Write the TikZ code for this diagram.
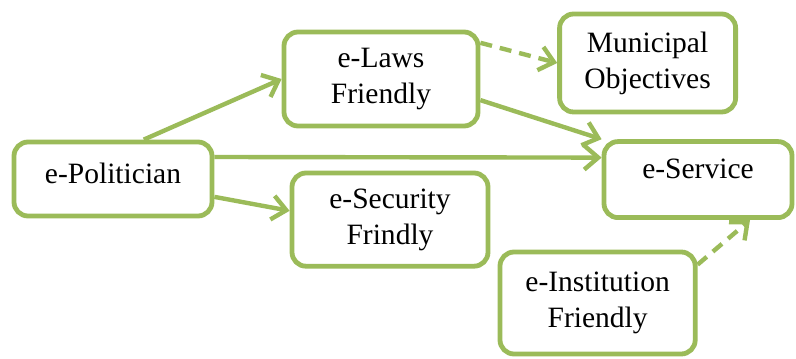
\documentclass[tikz,border=0pt]{standalone}
\usepackage{fontspec}
\setmainfont{Liberation Serif}
\usetikzlibrary{arrows.meta}
\definecolor{olive}{HTML}{9BBB59}

\begin{document}
\begin{tikzpicture}[
  box/.style={draw=olive, line width=1.2mm, rounded corners=3.5mm, fill=white,
    align=center, font=\fontsize{21pt}{25.5pt}\selectfont},
  link/.style={draw=olive, line width=1.1mm, -{Straight Barb[length=3.5mm,width=6mm]}},
  dashlink/.style={link, dash pattern=on 3mm off 2mm}
  ]

  \useasboundingbox (0, 0) rectangle (19.9, 8.95);

  \node[box, minimum width=4.95cm, minimum height=1.85cm, text depth=0.3cm] (pol) at (2.825, 4.475) {e-Politician};
  \node[box, minimum width=4.85cm, minimum height=2.35cm] (laws) at (9.525, 6.975) {e-Laws\\Friendly};
  \node[box, minimum width=4.4cm, minimum height=2.45cm] (muni) at (16.19, 7.375) {Municipal\\Objectives};
  \node[box, minimum width=4.7cm, minimum height=1.9cm, text depth=0.55cm] (serv) at (17.45, 4.46) {e-Service};
  \node[box, minimum width=4.9cm, minimum height=2.33cm] (sec) at (9.75, 3.46) {e-Security\\Frindly};
  \node[box, minimum width=4.88cm, minimum height=2.55cm] (inst) at (14.94, 1.375) {e-Institution\\Friendly};

  \draw [link] (pol.52) to (laws.west);
  \draw [link] ([yshift=0.55cm]pol.east) to ([yshift=0.55cm]serv.west);
  \draw [link] (pol.-10) to (sec.175);
  \draw [link] (laws.-12) to (serv.north west);
  \draw [dashlink] (laws.20) to (muni.west);
  \draw [dashlink] (inst.21) to ([xshift=1.3cm]serv.south);

\end{tikzpicture}
\end{document}
